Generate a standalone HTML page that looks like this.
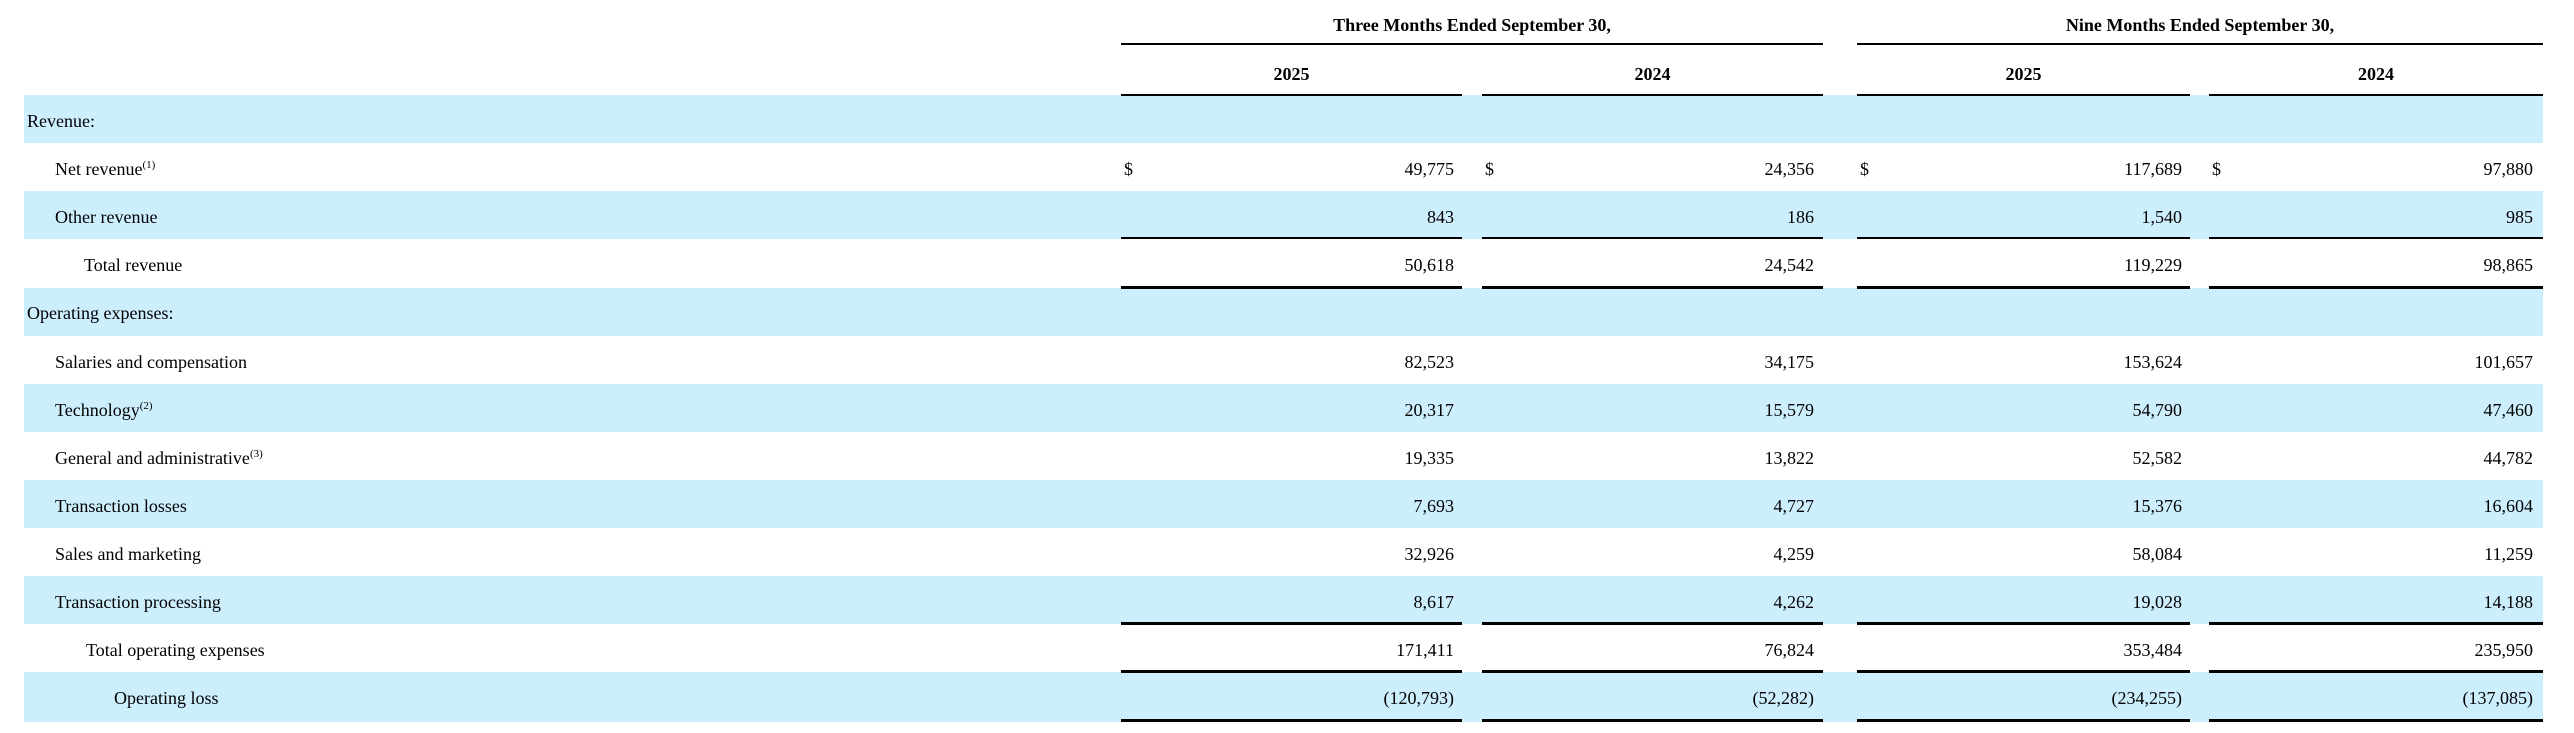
<!DOCTYPE html>
<html><head><meta charset="utf-8"><style>
body{margin:0;width:2574px;height:733px;background:#fff;position:relative;overflow:hidden;font-family:"Liberation Serif",serif;font-size:18px;color:#000}
.b{position:absolute;left:24px;width:2519px;height:48px;background:#cdeefd}
.t{position:absolute;white-space:nowrap;line-height:20px}
.r{position:absolute;white-space:nowrap;line-height:20px;text-align:right}
.l{position:absolute;height:2px;background:#000}
.h{font-weight:bold}
sup{font-size:11px;vertical-align:7px;line-height:0}
</style></head><body>
<div class="b" style="top:95px"></div>
<div class="b" style="top:191px"></div>
<div class="b" style="top:288px"></div>
<div class="b" style="top:384px"></div>
<div class="b" style="top:480px"></div>
<div class="b" style="top:576px"></div>
<div class="b" style="top:672px;height:50px"></div>

<div class="t h" style="left:1121px;width:702px;text-align:center;top:15px">Three Months Ended September 30,</div>
<div class="t h" style="left:1857px;width:686px;text-align:center;top:15px">Nine Months Ended September 30,</div>
<div class="l" style="left:1121px;width:702px;top:43px"></div>
<div class="l" style="left:1857px;width:686px;top:43px"></div>
<div class="t h" style="left:1121px;width:341px;text-align:center;top:64px">2025</div>
<div class="t h" style="left:1482px;width:341px;text-align:center;top:64px">2024</div>
<div class="t h" style="left:1857px;width:333px;text-align:center;top:64px">2025</div>
<div class="t h" style="left:2209px;width:334px;text-align:center;top:64px">2024</div>

<div id="rows"></div>
<script>
const rows=[
["Revenue:",27,null],
["Net revenue<sup>(1)</sup>",55,["49,775","24,356","117,689","97,880"],1],
["Other revenue",55,["843","186","1,540","985"]],
["Total revenue",84,["50,618","24,542","119,229","98,865"]],
["Operating expenses:",27,null],
["Salaries and compensation",55,["82,523","34,175","153,624","101,657"]],
["Technology<sup>(2)</sup>",55,["20,317","15,579","54,790","47,460"]],
["General and administrative<sup>(3)</sup>",55,["19,335","13,822","52,582","44,782"]],
["Transaction losses",55,["7,693","4,727","15,376","16,604"]],
["Sales and marketing",55,["32,926","4,259","58,084","11,259"]],
["Transaction processing",55,["8,617","4,262","19,028","14,188"]],
["Total operating expenses",86,["171,411","76,824","353,484","235,950"]],
["Operating loss",114,["(120,793)","(52,282)","(234,255)","(137,085)"]]
];
const cl=[1121,1482,1857,2209],cr=[1454,1814,2182,2533];
let h="";
rows.forEach((r,i)=>{const top=95+i*48.1+16;
h+=`<div class="t" style="left:${r[1]}px;top:${top}px">${r[0]}</div>`;
if(r[2])r[2].forEach((v,j)=>{h+=`<div class="r" style="left:${cr[j]-200}px;width:200px;top:${top}px">${v}</div>`;
if(r[3])h+=`<div class="t" style="left:${cl[j]+3}px;top:${top}px">$</div>`;});});
const cw=[341,341,333,334];
[95,238,287,623,671,720].forEach(y=>cl.forEach((x,j)=>{h+=`<div class="l" style="left:${x}px;width:${cw[j]}px;top:${y-1}px;height:${y==95||y==238?2:3}px"></div>`}));
document.getElementById("rows").innerHTML=h;
</script>
</body></html>
